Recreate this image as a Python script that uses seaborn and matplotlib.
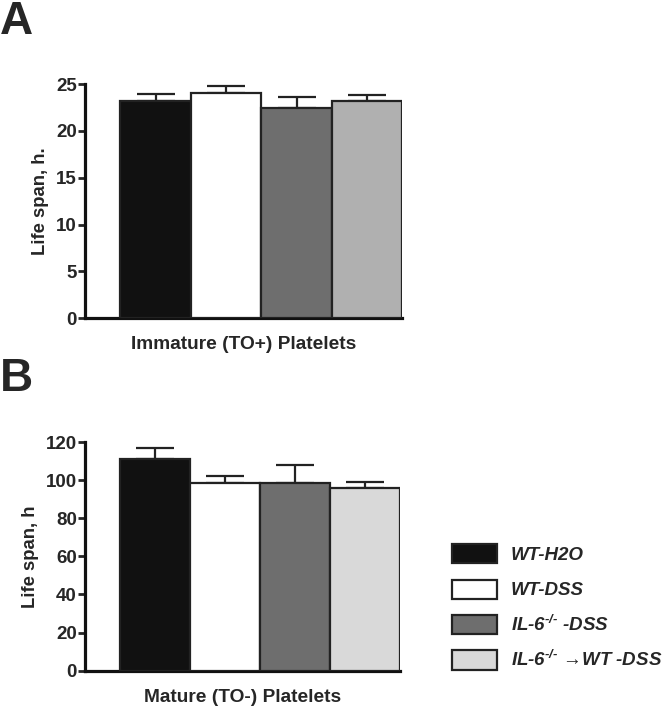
import matplotlib
matplotlib.use("Agg")
import matplotlib.pyplot as plt
import seaborn as sns
from matplotlib.patches import Patch

sns.set_style("ticks")
plt.rcParams['font.family'] = ['Liberation Sans', 'DejaVu Sans']
plt.rcParams['font.weight'] = 'bold'
plt.rcParams['mathtext.fontset'] = 'custom'
plt.rcParams['mathtext.rm'] = 'Liberation Sans:bold:italic'
plt.rcParams['mathtext.it'] = 'Liberation Sans:bold:italic'
plt.rcParams['mathtext.default'] = 'it'

groups = ["WT-H2O", "WT-DSS", "IL-6-/- -DSS", "IL-6-/- ->WT -DSS"]
legend_labels = ["WT-H2O", "WT-DSS", "IL-6$^{\u2010/\u2010}$ -DSS",
                 "IL-6$^{\u2010/\u2010}$ \u2192WT -DSS"]

immature_vals = [23.2, 24.05, 22.4, 23.2]
immature_err = [0.7, 0.8, 1.25, 0.65]
mature_vals = [111.3, 98.4, 98.7, 95.9]
mature_err = [5.8, 3.8, 9.3, 3.2]

colors_a = ["#111111", "#ffffff", "#6e6e6e", "#b0b0b0"]
colors_b = ["#111111", "#ffffff", "#6e6e6e", "#d9d9d9"]

fig = plt.figure(figsize=(6.65, 7.07), dpi=100)
ax_a = fig.add_axes([0.128, 0.550, 0.477, 0.331])
ax_b = fig.add_axes([0.128, 0.0513, 0.474, 0.3235])


def panel(ax, vals, err, colors, yticks, ylabel, xlabel):
    sns.barplot(x=groups, y=vals, hue=groups, palette=colors, width=1.0,
                edgecolor="#222222", linewidth=1.6, legend=False, ax=ax, zorder=3)
    ax.errorbar(x=range(len(vals)), y=vals, yerr=[[0] * len(vals), err], fmt="none",
                ecolor="#222222", elinewidth=1.6, capsize=13.5, capthick=1.6, zorder=2)
    ax.set_xlim(-1.0, 3.5)
    ax.set_ylim(0, yticks[-1])
    ax.set_yticks(yticks)
    ax.set_xticks([])
    ax.set_ylabel(ylabel, fontsize=13.3, fontweight="bold", labelpad=5)
    ax.set_xlabel(xlabel, fontsize=13.8, fontweight="bold", labelpad=13)
    ax.tick_params(axis="y", length=5, width=2, labelsize=13.5, pad=1)
    for t in ax.get_yticklabels():
        t.set_fontweight("bold")
    sns.despine(ax=ax)
    for s in ["left", "bottom"]:
        ax.spines[s].set_linewidth(2.3)
        ax.spines[s].set_color("#111111")


panel(ax_a, immature_vals, immature_err, colors_a, [0, 5, 10, 15, 20, 25],
      "Life span, h.", "Immature (TO+) Platelets")
panel(ax_b, mature_vals, mature_err, colors_b, [0, 20, 40, 60, 80, 100, 120],
      "Life span, h", "Mature (TO-) Platelets")

fig.text(0.0, 1.0, "A", fontsize=33, fontweight="bold", va="top", ha="left")
fig.text(0.0, 0.495, "B", fontsize=33, fontweight="bold", va="top", ha="left")

handles = [Patch(facecolor=c, edgecolor="#222222", linewidth=1.6) for c in colors_b]
leg = fig.legend(handles, legend_labels, loc="center left", bbox_to_anchor=(0.654, 0.141),
                 frameon=False, fontsize=13.5, handlelength=2.4, handleheight=1.2,
                 labelspacing=0.82, handletextpad=0.75)
for t in leg.get_texts():
    t.set_fontstyle("italic")
    t.set_fontweight("bold")

fig.savefig("out.png", dpi=100)
